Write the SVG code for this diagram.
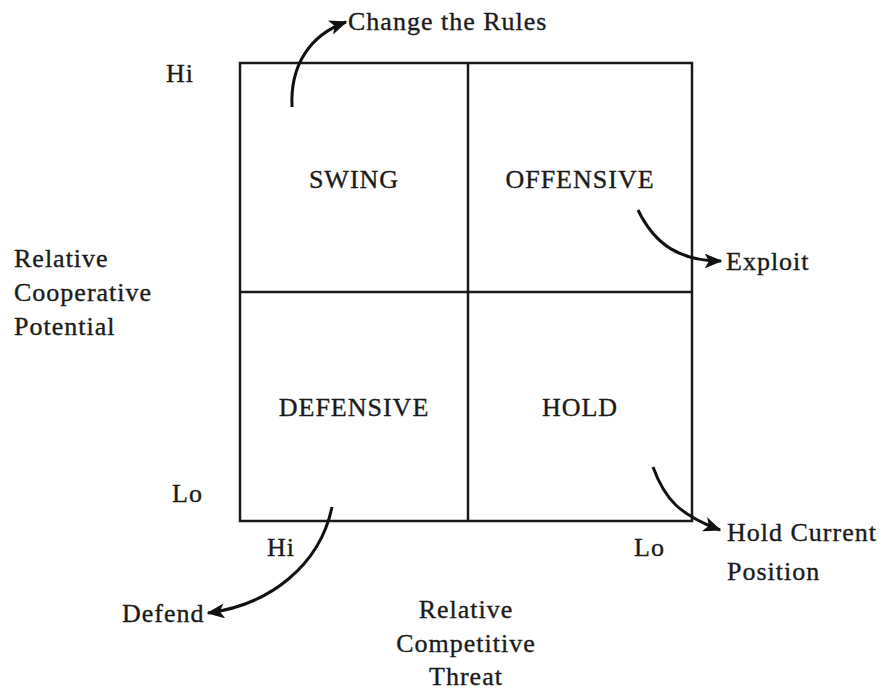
<svg xmlns="http://www.w3.org/2000/svg" width="892" height="696" viewBox="0 0 892 696">
<defs>
<style>
text{font-family:"Liberation Serif","Times New Roman",serif;font-size:26px;letter-spacing:1px;fill:#1a1a1a;stroke:#1a1a1a;stroke-width:0.35px}
.c{text-anchor:middle}
.ln{stroke:#1a1a1a;stroke-width:2.5;fill:none}
.ar{stroke:#111;stroke-width:3;fill:none;marker-end:url(#ah)}
</style>
<marker id="ah" viewBox="0 0 12 10" refX="11" refY="5" markerWidth="6" markerHeight="5" orient="auto" markerUnits="strokeWidth">
<path d="M0,0 L12,5 L0,10 L3,5 z" fill="#111"/>
</marker>
</defs>
<rect width="892" height="696" fill="#fff"/>
<g id="grid">
<rect class="ln" x="240" y="63" width="452" height="458"/>
<line class="ln" x1="468" y1="63" x2="468" y2="521"/>
<line class="ln" x1="240" y1="292" x2="692" y2="292"/>
</g>
<g id="swing"><text class="c" x="354" y="188">SWING</text></g>
<g id="offensive"><text class="c" x="580" y="188">OFFENSIVE</text></g>
<g id="defensive"><text class="c" x="354" y="416">DEFENSIVE</text></g>
<g id="hold"><text class="c" x="580" y="416">HOLD</text></g>
<g id="axis-labels">
<text x="166" y="82">Hi</text>
<text x="172" y="502">Lo</text>
<text x="267" y="556">Hi</text>
<text x="634" y="556">Lo</text>
<text x="14" y="267">Relative</text>
<text x="14" y="301">Cooperative</text>
<text x="14" y="335">Potential</text>
<text class="c" x="466" y="618">Relative</text>
<text class="c" x="466" y="652">Competitive</text>
<text class="c" x="466" y="685">Threat</text>
</g>
<g id="outcomes">
<text x="348" y="30">Change the Rules</text>
<text x="726" y="270">Exploit</text>
<text x="727" y="541">Hold Current</text>
<text x="727" y="580">Position</text>
<text x="122" y="622">Defend</text>
</g>
<g id="connectors">
<path class="ar" d="M292,107 C290,65 310,35 346,22"/>
<path class="ar" d="M638,210 C655,245 680,261 721,261"/>
<path class="ar" d="M653,467 C665,500 680,515 720,530"/>
<path class="ar" d="M332,507 C320,565 270,605 208,613"/>
</g>
</svg>
